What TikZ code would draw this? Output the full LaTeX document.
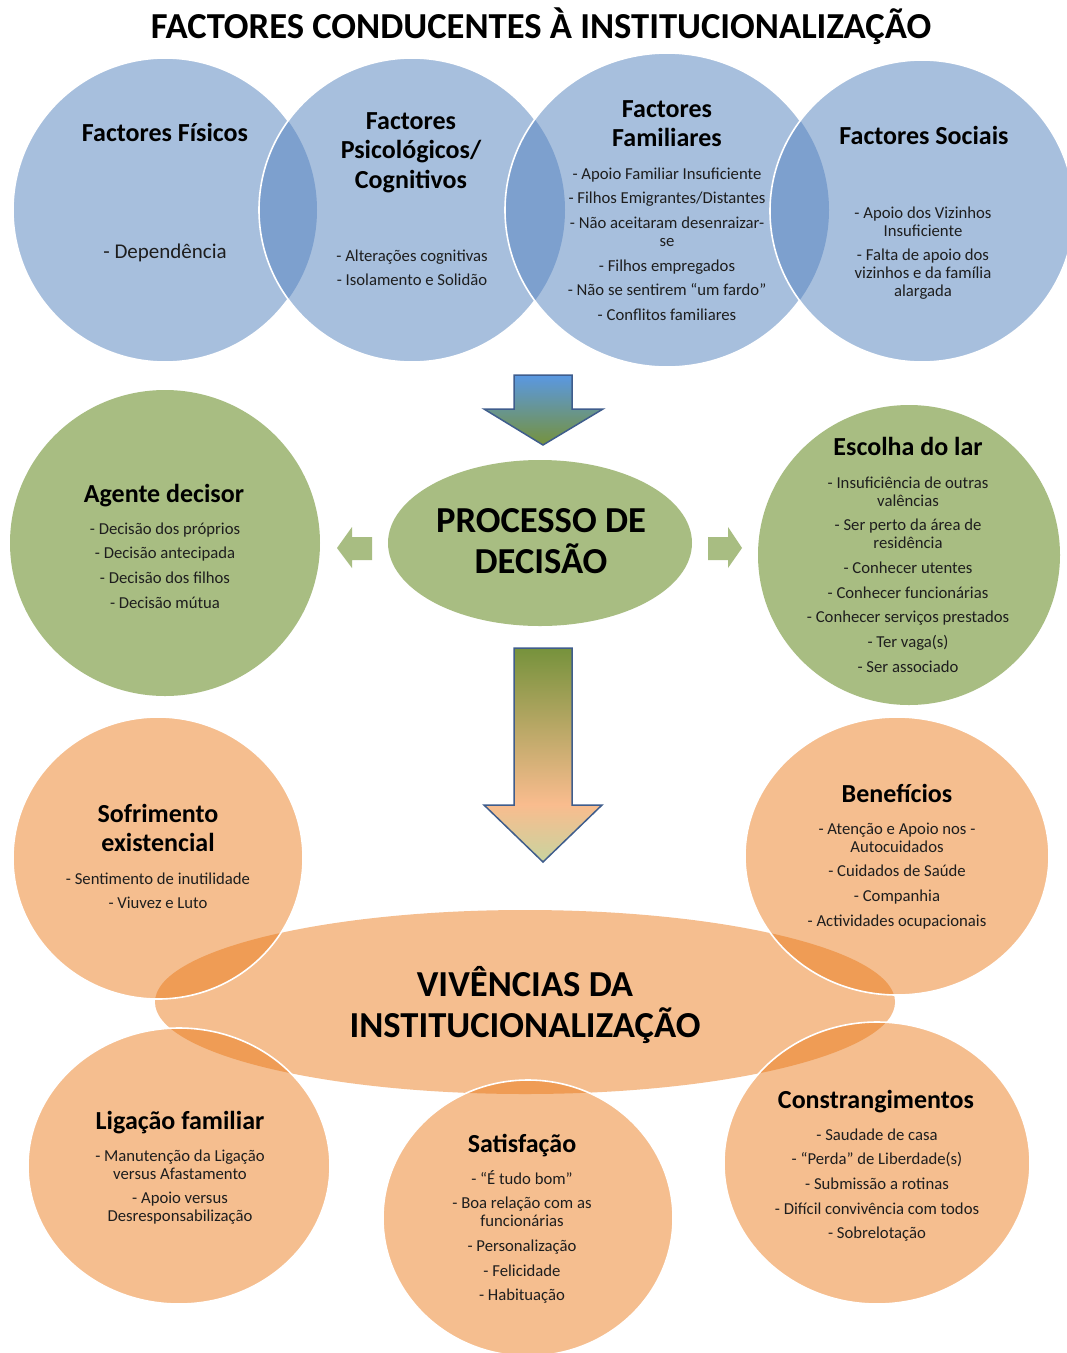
\documentclass[tikz,border=0pt]{standalone}
\usepackage{fontspec}
\setmainfont{Carlito}
\definecolor{bluF}{HTML}{A7BFDD}
\definecolor{bluL}{HTML}{7DA0CE}
\definecolor{grnF}{HTML}{A8BD82}
\definecolor{orgF}{HTML}{F5BE8F}
\definecolor{orgL}{HTML}{EF9C55}
\definecolor{arrB}{HTML}{3F5D8C}
\definecolor{aoneT}{HTML}{5A98E2}
\definecolor{aoneB}{HTML}{76923C}
\definecolor{atwoT}{HTML}{76923C}
\definecolor{atwoM}{HTML}{F9BC8E}
\definecolor{atwoB}{HTML}{C8D49F}
\definecolor{txt}{HTML}{1E1E1E}
\pgfdeclareverticalshading{atwoshade}{100bp}{color(0bp)=(atwoB); color(25bp)=(atwoB); color(38.5bp)=(atwoM); color(75bp)=(atwoT); color(100bp)=(atwoT)}
\newcommand\blk[1]{\begin{tabular}[t]{@{}c@{}}#1\end{tabular}}
% #1 name, #2 rx, #3 ry, #4 colour
\newcommand\myshape[4]{\fill[#4] (#1) ellipse [x radius=#2pt, y radius=#3pt];}
\newcommand\myoutline[3]{\draw[outl] (#1) ellipse [x radius=#2pt, y radius=#3pt];}
% clip A (#1,#2,#3), fill B (#4,#5,#6) with #7
\newcommand\mylens[7]{\begin{scope}\clip (#1) ellipse [x radius=#2pt, y radius=#3pt];
  \fill[#7] (#4) ellipse [x radius=#5pt, y radius=#6pt];\end{scope}}
\tikzset{
  ttl/.style={anchor=base, inner sep=0pt, font=\fontsize{26}{29.5}\selectfont\bfseries, text=black},
  itm/.style={anchor=base, inner sep=0pt, font=\fontsize{16.7}{18}\selectfont, text=txt},
  bigtxt/.style={anchor=base, inner sep=0pt, font=\fontsize{36.6}{40}\selectfont\bfseries, text=black},
  outl/.style={draw=white, line width=1.6pt},
  blockarrow/.style={draw=arrB, line width=1.5pt, line join=miter},
  sidearrow/.style={fill=grnF},
}
\begin{document}
\begin{tikzpicture}[x=1pt,y=-1pt]
\useasboundingbox (0,0) rectangle (1067,1353);
\fill[white] (0,0) rectangle (1067,1353);

% ---------- shape centres
\coordinate (c1) at (165,210);
\coordinate (c2) at (412,210);
\coordinate (c3) at (667,210);
\coordinate (c4) at (922,211);
\coordinate (ag) at (165,543);
\coordinate (pd) at (540,543);
\coordinate (es) at (909,555);
\coordinate (vv) at (525,1002);
\coordinate (so) at (158,858);
\coordinate (be) at (897,856);
\coordinate (li) at (179,1166);
\coordinate (sa) at (528,1218);
\coordinate (co) at (877,1163);

% ---------- title
\node[bigtxt] (title) at (541,38) {FACTORES CONDUCENTES À INSTITUCIONALIZAÇÃO};

% ---------- blue circles
\myshape{c1}{152}{152}{bluF}
\myoutline{c1}{152}{152}
\myshape{c2}{153}{152}{bluF}
\mylens{c1}{152}{152}{c2}{153}{152}{bluL}
\myoutline{c2}{153}{152}
\myshape{c3}{162}{157}{bluF}
\mylens{c2}{153}{152}{c3}{162}{157}{bluL}
\myoutline{c3}{162}{157}
\myshape{c4}{152}{151}{bluF}
\mylens{c3}{162}{157}{c4}{152}{151}{bluL}
\myoutline{c4}{152}{151}

\node[ttl] (t1) at (165,141) {Factores Físicos};
\node[anchor=base, inner sep=0pt, font=\fontsize{21}{24}\selectfont, text=txt] (i1) at (165,258) {- Dependência};
\node[ttl] (t2) at (411,129) {\blk{Factores\\Psicológicos/\\Cognitivos}};
\node[itm] (i2) at (412,261) {\blk{- Alterações cognitivas\\[6.7pt]- Isolamento e Solidão}};
\node[ttl] (t3) at (667,117) {\blk{Factores\\Familiares}};
\node[itm] (i3) at (667,179) {\blk{- Apoio Familiar Insuficiente\\[6.7pt]- Filhos Emigrantes/Distantes\\[6.7pt]- Não aceitaram desenraizar-\\se\\[6.7pt]- Filhos empregados\\[6.7pt]- Não se sentirem “um fardo”\\[6.7pt]- Conflitos familiares}};
\node[ttl] (t4) at (924,144) {Factores Sociais};
\node[itm] (i4) at (923,218) {\blk{- Apoio dos Vizinhos\\Insuficiente\\[6.7pt]- Falta de apoio dos\\vizinhos e da família\\alargada}};

% ---------- arrow 1
\draw[blockarrow, top color=aoneT, bottom color=aoneB]
  (514,375) -- (572,375) -- (572,409) -- (603,409) -- (543,445) -- (484,409) -- (514,409) -- cycle;

% ---------- green row
\myshape{ag}{155}{153}{grnF}
\myshape{pd}{152}{83}{grnF}
\myshape{es}{151}{150}{grnF}
\fill[sidearrow] (372,537) -- (372,560) -- (352,560) -- (352,568) -- (337,548) -- (352,527) -- (352,537) -- cycle;
\fill[sidearrow] (708,537) -- (708,560) -- (728,560) -- (728,568) -- (742,548) -- (728,527) -- (728,537) -- cycle;

\node[ttl] (tag) at (164,502) {Agente decisor};
\node[itm] (iag) at (165,534) {\blk{- Decisão dos próprios\\[6.7pt]- Decisão antecipada\\[6.7pt]- Decisão dos filhos\\[6.7pt]- Decisão mútua}};
\node[bigtxt] (tpd) at (541,532) {\blk{PROCESSO DE\\DECISÃO}};
\node[ttl] (tes) at (908,455) {Escolha do lar};
\node[itm] (ies) at (908,488) {\blk{- Insuficiência de outras\\valências\\[6.7pt]- Ser perto da área de\\residência\\[6.7pt]- Conhecer utentes\\[6.7pt]- Conhecer funcionárias\\[6.7pt]- Conhecer serviços prestados\\[6.7pt]- Ter vaga(s)\\[6.7pt]- Ser associado}};

% ---------- arrow 2
\draw[blockarrow, shading=atwoshade]
  (514,648) -- (572,648) -- (572,805) -- (602,805) -- (543,862) -- (484,805) -- (514,805) -- cycle;

% ---------- orange group
\myshape{vv}{370}{92}{orgF}
\myshape{so}{145}{141}{orgF}
\mylens{vv}{370}{92}{so}{145}{141}{orgL}
\myoutline{so}{145}{141}
\myshape{be}{152}{139}{orgF}
\mylens{vv}{370}{92}{be}{152}{139}{orgL}
\myoutline{be}{152}{139}
\myshape{li}{151}{138}{orgF}
\mylens{vv}{370}{92}{li}{151}{138}{orgL}
\myoutline{li}{151}{138}
\myshape{sa}{145}{138}{orgF}
\mylens{vv}{370}{92}{sa}{145}{138}{orgL}
\myoutline{sa}{145}{138}
\myshape{co}{153}{141}{orgF}
\mylens{vv}{370}{92}{co}{153}{141}{orgL}
\myoutline{co}{153}{141}

\node[ttl] (tso) at (158,822) {\blk{Sofrimento\\existencial}};
\node[itm] (iso) at (158,884) {\blk{- Sentimento de inutilidade\\[6.7pt]- Viuvez e Luto}};
\node[ttl] (tbe) at (897,802) {Benefícios};
\node[itm] (ibe) at (897,834) {\blk{- Atenção e Apoio nos -\\Autocuidados\\[6.7pt]- Cuidados de Saúde\\[6.7pt]- Companhia\\[6.7pt]- Actividades ocupacionais}};
\node[bigtxt] (tvv) at (525,996) {\blk{VIVÊNCIAS DA\\INSTITUCIONALIZAÇÃO}};
\node[ttl] (tli) at (180,1129) {Ligação familiar};
\node[itm] (ili) at (180,1161) {\blk{- Manutenção da Ligação\\versus Afastamento\\[6.7pt]- Apoio versus\\Desresponsabilização}};
\node[ttl] (tsa) at (522,1152) {Satisfação};
\node[itm] (isa) at (522,1184) {\blk{- “É tudo bom”\\[6.7pt]- Boa relação com as\\funcionárias\\[6.7pt]- Personalização\\[6.7pt]- Felicidade\\[6.7pt]- Habituação}};
\node[ttl] (tco) at (876,1108) {Constrangimentos};
\node[itm] (ico) at (877,1140) {\blk{- Saudade de casa\\[6.7pt]- “Perda” de Liberdade(s)\\[6.7pt]- Submissão a rotinas\\[6.7pt]- Difícil convivência com todos\\[6.7pt]- Sobrelotação}};
\end{tikzpicture}
\end{document}
